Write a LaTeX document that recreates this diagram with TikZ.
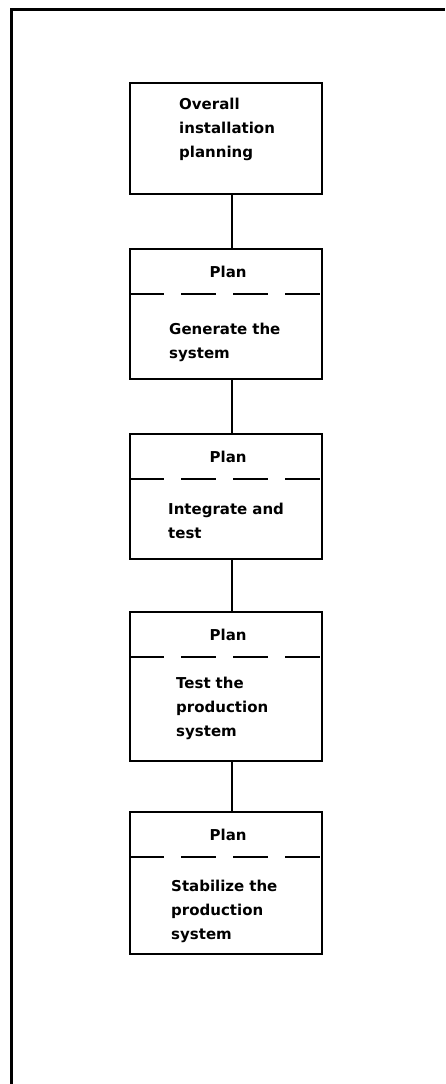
\documentclass[tikz,border=0pt]{standalone}
\usepackage{fontspec}
\setmainfont{DejaVu Sans}
\begin{document}
\begin{tikzpicture}[x=1pt,y=-1pt,
  stage/.style={draw, line width=2.2pt, minimum width=192pt, inner sep=0pt, anchor=north west},
  txt/.style={font=\bfseries\fontsize{15}{24}\selectfont, inner sep=0pt},
  head/.style={txt, anchor=base},
  body/.style={txt, anchor=base west, align=left, text width=140pt},
  split/.style={line width=2pt, dash pattern=on 35pt off 17pt},
  link/.style={line width=2pt}]
\useasboundingbox (0,0) rectangle (445,1084);
% open frame: left and top sides only
\draw[line width=3pt] (11.5,1084) -- (11.5,9) -- (445,9);

% stage boxes
\node[stage, minimum height=111pt] (b1) at (129,82) {};
\node[stage, minimum height=130pt] (b2) at (129,248) {};
\node[stage, minimum height=125pt] (b3) at (129,433) {};
\node[stage, minimum height=149pt] (b4) at (129,611) {};
\node[stage, minimum height=142pt] (b5) at (129,811) {};

% first box: text only
\node[body] (t1) at ([xshift=50pt,yshift=-27pt]b1.north west) {Overall\\installation\\planning};

% planning headers with dashed separators
\foreach \b in {b2,b3,b4,b5}{
  \node[head] (\b h) at ([xshift=2pt,yshift=-29pt]\b.north) {Plan};
  \draw[split] ([yshift=-46pt]\b.north west) -- ([yshift=-46pt]\b.north east);
}

% stage descriptions
\node[body] (t2) at ([xshift=40pt,yshift=-86pt]b2.north west) {Generate the\\system};
\node[body] (t3) at ([xshift=39pt,yshift=-81pt]b3.north west) {Integrate and\\test};
\node[body] (t4) at ([xshift=47pt,yshift=-77pt]b4.north west) {Test the\\production\\system};
\node[body] (t5) at ([xshift=42pt,yshift=-80pt]b5.north west) {Stabilize the\\production\\system};

% connectors between stages
\draw[link] ([xshift=6pt]b1.south) -- ([xshift=6pt]b2.north);
\draw[link] ([xshift=6pt]b2.south) -- ([xshift=6pt]b3.north);
\draw[link] ([xshift=6pt]b3.south) -- ([xshift=6pt]b4.north);
\draw[link] ([xshift=6pt]b4.south) -- ([xshift=6pt]b5.north);
\end{tikzpicture}
\end{document}
